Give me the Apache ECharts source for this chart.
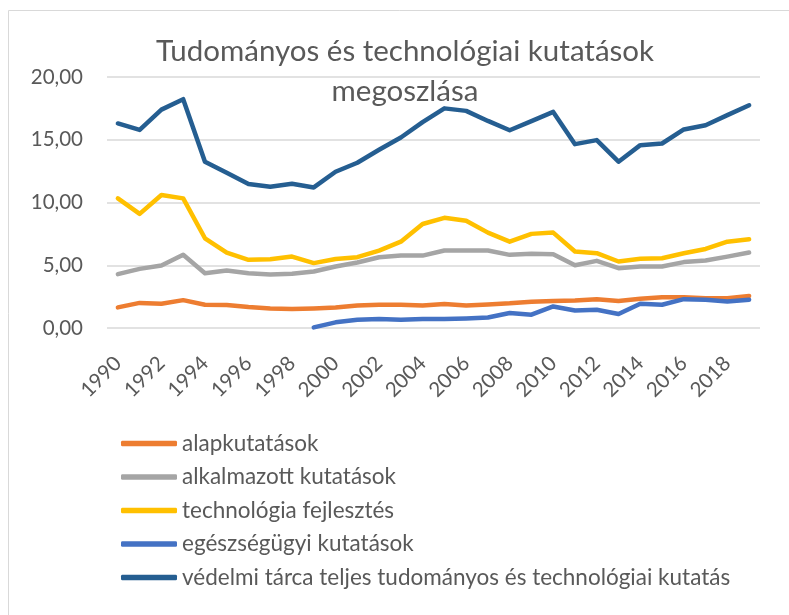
<!DOCTYPE html>
<html>
<head>
<meta charset="utf-8">
<script src="https://cdn.jsdelivr.net/npm/echarts@6/dist/echarts.min.js"></script>
<style>
  html, body { margin: 0; padding: 0; background: #fff; }
  #chart { width: 789px; height: 615px; }
</style>
</head>
<body>
<div id="chart"></div>
<script>
// évek
const years = ['1990', '1991', '1992', '1993', '1994', '1995', '1996', '1997', '1998', '1999',
  '2000', '2001', '2002', '2003', '2004', '2005', '2006', '2007', '2008', '2009',
  '2010', '2011', '2012', '2013', '2014', '2015', '2016', '2017', '2018', '2019']

const alapkutatasok = [1.64, 2.0, 1.93, 2.22, 1.85, 1.83, 1.67, 1.56, 1.51, 1.56,
  1.64, 1.8, 1.85, 1.85, 1.8, 1.92, 1.8, 1.88, 1.97, 2.1,
  2.15, 2.2, 2.3, 2.15, 2.33, 2.45, 2.45, 2.38, 2.38, 2.55]

const alkalmazott = [4.29, 4.71, 4.98, 5.83, 4.37, 4.58, 4.37, 4.26, 4.32, 4.5,
  4.9, 5.22, 5.64, 5.77, 5.77, 6.17, 6.17, 6.17, 5.83, 5.91,
  5.88, 5.0, 5.35, 4.77, 4.9, 4.9, 5.25, 5.38, 5.69, 6.01]

const technologia = [10.33, 9.09, 10.6, 10.33, 7.15, 6.01, 5.43, 5.48, 5.69, 5.17,
  5.5, 5.64, 6.17, 6.88, 8.29, 8.78, 8.55, 7.6, 6.88, 7.5,
  7.6, 6.09, 5.96, 5.3, 5.51, 5.56, 5.96, 6.3, 6.88, 7.07]

const egeszsegugyi = [null, null, null, null, null, null, null, null, null, 0.05,
  0.45, 0.66, 0.71, 0.66, 0.71, 0.71, 0.76, 0.84, 1.19, 1.06,
  1.72, 1.4, 1.45, 1.11, 1.93, 1.85, 2.3, 2.25, 2.11, 2.25]

const vedelmi = [16.3, 15.78, 17.4, 18.23, 13.25, 12.37, 11.47, 11.26, 11.5, 11.2,
  12.45, 13.17, 14.2, 15.18, 16.4, 17.5, 17.3, 16.5, 15.76, 16.48,
  17.22, 14.65, 14.97, 13.25, 14.57, 14.7, 15.82, 16.16, 16.96, 17.75]

const seriesNames = [
  'alapkutatások',
  'alkalmazott kutatások',
  'technológia fejlesztés',
  'egészségügyi kutatások',
  'védelmi tárca teljes tudományos és technológiai kutatás'
]
const seriesData = [alapkutatasok, alkalmazott, technologia, egeszsegugyi, vedelmi]
const colors = ['#ED7D31', '#A5A5A5', '#FFC000', '#4472C4', '#255E91']

const font = 'Lato, "Open Sans", sans-serif'
const textColor = '#595959'

const chart = echarts.init(document.getElementById('chart'))

chart.setOption({
  animation: false,
  color: colors,
  textStyle: { fontFamily: font },
  graphic: [
    {
      // diagram keret
      type: 'rect',
      shape: { x: 8.5, y: 10.5, width: 800, height: 700 },
      style: { fill: 'none', stroke: '#D9D9D9', lineWidth: 1 },
      silent: true
    },
    {
      // cím (a diagramterület közepéhez igazítva, nem a vászonhoz)
      type: 'text',
      x: 405,
      y: 31,
      style: {
        text: 'Tudományos és technológiai kutatások\nmegoszlása',
        fontFamily: font,
        fontSize: 29.5,
        lineHeight: 40,
        fill: textColor,
        align: 'center',
        verticalAlign: 'top'
      },
      silent: true
    }
  ],
  legend: {
    orient: 'vertical',
    left: 116,
    top: 427,
    itemWidth: 56,
    itemHeight: 5.5,
    itemGap: 10.5,
    icon: 'roundRect',
    textStyle: {
      fontFamily: font,
      fontSize: 22.5,
      lineHeight: 22,
      color: textColor
    },
    data: seriesNames
  },
  grid: {
    left: 107,
    right: 29,
    top: 77,
    bottom: 287
  },
  xAxis: {
    type: 'category',
    data: years,
    boundaryGap: true,
    axisLine: { show: false },
    axisTick: { show: false },
    axisLabel: {
      interval: 1,
      rotate: 45,
      margin: 32,
      fontFamily: font,
      fontSize: 20.5,
      color: textColor
    }
  },
  yAxis: {
    type: 'value',
    min: 0,
    max: 20,
    interval: 5,
    axisLine: { show: false },
    axisTick: { show: false },
    splitLine: { lineStyle: { color: '#D9D9D9', width: 1.5 } },
    axisLabel: {
      margin: 24,
      fontFamily: font,
      fontSize: 20.5,
      color: textColor,
      formatter: v => v.toFixed(2).replace('.', ',')
    }
  },
  series: seriesNames.map((name, i) => ({
    name,
    type: 'line',
    data: seriesData[i],
    showSymbol: false,
    symbol: 'none',
    connectNulls: false,
    lineStyle: { width: 4.5, color: colors[i], cap: 'round', join: 'round' },
    itemStyle: { color: colors[i] }
  }))
})
</script>
</body>
</html>
